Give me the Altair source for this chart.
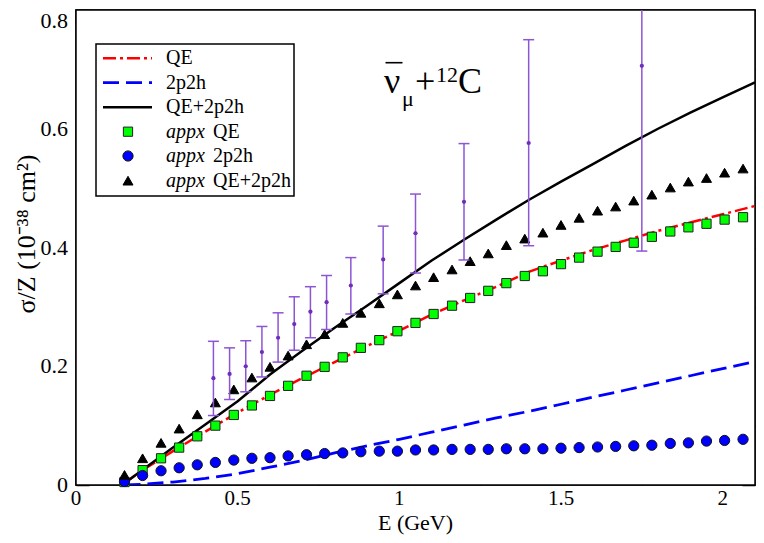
import altair as alt
import pandas as pd

SERIF = "Liberation Serif"
PURPLE_BAR = "#8c55d4"
PURPLE_DOT = "#6f2dbd"

# ---------------- data ----------------
E_appx = [0.15, 0.206, 0.263, 0.319, 0.375, 0.431, 0.488, 0.544, 0.6, 0.656,
          0.713, 0.769, 0.825, 0.881, 0.938, 0.994, 1.05, 1.106, 1.163, 1.219,
          1.275, 1.331, 1.388, 1.444, 1.5, 1.556, 1.613, 1.669, 1.725, 1.781,
          1.838, 1.894, 1.95, 2.006, 2.063]
appx_qe = [0.005, 0.025, 0.045, 0.063, 0.082, 0.100, 0.118, 0.134, 0.150, 0.167,
           0.184, 0.199, 0.215, 0.231, 0.244, 0.259, 0.273, 0.288, 0.302, 0.315,
           0.327, 0.340, 0.352, 0.360, 0.372, 0.383, 0.393, 0.401, 0.408, 0.418,
           0.427, 0.434, 0.440, 0.447, 0.451]
appx_2p2h = [0.006, 0.016, 0.024, 0.029, 0.034, 0.038, 0.042, 0.045, 0.046, 0.049,
             0.051, 0.053, 0.054, 0.056, 0.057, 0.057, 0.059, 0.059, 0.060, 0.060,
             0.060, 0.061, 0.061, 0.061, 0.062, 0.063, 0.064, 0.065, 0.066, 0.067,
             0.070, 0.071, 0.074, 0.075, 0.077]
appx_tot = [0.017, 0.045, 0.071, 0.095, 0.119, 0.139, 0.161, 0.181, 0.199, 0.218,
            0.237, 0.254, 0.273, 0.290, 0.306, 0.321, 0.336, 0.350, 0.363, 0.377,
            0.390, 0.404, 0.415, 0.425, 0.438, 0.450, 0.462, 0.469, 0.479, 0.489,
            0.501, 0.511, 0.517, 0.526, 0.533]

E_line = [0.15, 0.2, 0.3, 0.4, 0.5, 0.6, 0.7, 0.8, 0.9, 1.0, 1.1, 1.2, 1.3, 1.4,
          1.5, 1.6, 1.7, 1.8, 1.9, 2.0, 2.1]
qe_line = [0.003, 0.023, 0.057, 0.090, 0.122, 0.152, 0.180, 0.207, 0.234, 0.260,
           0.287, 0.311, 0.334, 0.359, 0.378, 0.396, 0.412, 0.428, 0.442, 0.456, 0.470]
np_line = [0.0, 0.001, 0.005, 0.011, 0.019, 0.030, 0.041, 0.054, 0.066, 0.077,
           0.089, 0.101, 0.113, 0.124, 0.136, 0.148, 0.160, 0.172, 0.184, 0.196, 0.208]
tot_line = [0.003, 0.023, 0.063, 0.102, 0.141, 0.186, 0.226, 0.265, 0.302, 0.340,
            0.378, 0.413, 0.447, 0.480, 0.511, 0.541, 0.571, 0.600, 0.627, 0.653, 0.678]

E_data = [0.425, 0.475, 0.525, 0.575, 0.625, 0.675, 0.725, 0.775, 0.85, 0.95,
          1.05, 1.2, 1.4, 1.75]
data_c = [0.180, 0.187, 0.200, 0.224, 0.248, 0.271, 0.292, 0.308, 0.336, 0.380,
          0.424, 0.477, 0.576, 0.706]
data_lo = [0.117, 0.144, 0.157, 0.182, 0.207, 0.227, 0.248, 0.262, 0.288, 0.322,
           0.357, 0.379, 0.403, 0.394]
data_hi = [0.242, 0.231, 0.243, 0.267, 0.290, 0.317, 0.334, 0.353, 0.383, 0.436,
           0.490, 0.575, 0.750, 1.020]

X_MIN, X_MAX = 0.0, 2.1
Y_MIN, Y_MAX = 0.0, 0.8
x_major = [0, 0.5, 1, 1.5, 2]
x_major_labels = ["0", "0.5", "1", "1.5", "2"]
x_minor = [0.25, 0.75, 1.25, 1.75]
y_major = [0, 0.2, 0.4, 0.6, 0.8]
y_major_labels = ["0", "0.2", "0.4", "0.6", "0.8"]
y_minor = [0.1, 0.3, 0.5, 0.7]

W, H = 679, 475
MAJ, MIN_ = 13, 7

lines_df = pd.DataFrame({"E": E_line, "qe": qe_line, "np": np_line, "tot": tot_line})
appx_df = pd.DataFrame({"E": E_appx, "qe": appx_qe, "np": appx_2p2h, "tot": appx_tot})
data_df = pd.DataFrame({"E": E_data, "c": data_c, "lo": data_lo, "hi": data_hi})
frame_df = pd.DataFrame({"x0": [X_MIN], "x1": [X_MAX], "y0": [Y_MIN], "y1": [Y_MAX]})
one = pd.DataFrame({"a": [0]})

xs = alt.Scale(domain=[X_MIN, X_MAX], nice=False, zero=False)
ys = alt.Scale(domain=[Y_MIN, Y_MAX], nice=False, zero=False)


def tick_axis(orient, values, length):
    return alt.Axis(orient=orient, values=values, offset=-length, tickSize=length,
                    tickWidth=1.5, tickColor="black", ticks=True, labels=False,
                    domain=False, grid=False, title=None)


def X(field, axis=None):
    return alt.X(field, type="quantitative", scale=xs, axis=axis)


def Y(field, axis=None):
    return alt.Y(field, type="quantitative", scale=ys, axis=axis)


def box(x0, x1, y0, y1, color="black"):
    return (alt.Chart(one).mark_rect(fill=color, opacity=1)
            .encode(x=alt.value(x0), x2=alt.value(x1), y=alt.value(y0), y2=alt.value(y1)))


layers = []

# plot frame from the scale extent
layers.append(alt.Chart(frame_df).mark_rect(fill="white", stroke="black", strokeWidth=1.5)
              .encode(x=X("x0"), x2="x1", y=Y("y0"), y2="y1"))

# curves (each carries one set of inward tick axes)
layers.append(alt.Chart(lines_df).mark_line(color="#0000ff", strokeWidth=2.8,
                                            strokeDash=[16, 7], clip=True)
              .encode(x=X("E", tick_axis("bottom", x_major, MAJ)),
                      y=Y("np", tick_axis("left", y_major, MAJ))))
layers.append(alt.Chart(lines_df).mark_line(color="#ff0000", strokeWidth=2.5,
                                            strokeDash=[13, 4, 3, 4], clip=True)
              .encode(x=X("E", tick_axis("top", x_major, MAJ)),
                      y=Y("qe", tick_axis("right", y_major, MAJ))))
layers.append(alt.Chart(lines_df).mark_line(color="black", strokeWidth=2.5, clip=True)
              .encode(x=X("E", tick_axis("bottom", x_minor, MIN_)),
                      y=Y("tot", tick_axis("left", y_minor, MIN_))))

layers.append(alt.Chart(appx_df).mark_point(shape="square", filled=True, fill="#00ff00",
                                            stroke="#222222", strokeWidth=1, size=85,
                                            opacity=1)
              .encode(x=X("E", tick_axis("top", x_minor, MIN_)),
                      y=Y("qe", tick_axis("right", y_minor, MIN_))))
layers.append(alt.Chart(appx_df).mark_point(shape="circle", filled=True, fill="#0000ff",
                                            stroke="#111111", strokeWidth=1, size=105,
                                            opacity=1)
              .encode(x=X("E"), y=Y("np")))
layers.append(alt.Chart(appx_df).mark_point(shape="triangle-up", filled=True,
                                            fill="black", stroke="black", strokeWidth=1,
                                            size=100, opacity=1)
              .encode(x=X("E"), y=Y("tot")))

layers.append(alt.Chart(data_df).mark_rule(color=PURPLE_BAR, strokeWidth=1.5, clip=True)
              .encode(x=X("E"), y=Y("lo"), y2="hi"))
layers.append(alt.Chart(data_df).mark_tick(color=PURPLE_BAR, thickness=1.5, size=11,
                                           orient="horizontal", clip=True, opacity=1)
              .encode(x=X("E"), y=Y("hi")))
layers.append(alt.Chart(data_df).mark_tick(color=PURPLE_BAR, thickness=1.5, size=11,
                                           orient="horizontal", clip=True, opacity=1)
              .encode(x=X("E"), y=Y("lo")))
layers.append(alt.Chart(data_df).mark_circle(color=PURPLE_DOT, size=18, opacity=1)
              .encode(x=X("E"), y=Y("c")))

# tick labels
xl = pd.DataFrame({"v": x_major, "lab": x_major_labels})
layers.append(alt.Chart(xl).mark_text(font=SERIF, fontSize=21, align="center",
                                      baseline="alphabetic", color="black")
              .encode(x=X("v"), y=alt.value(H + 20), text="lab:N"))
yl = pd.DataFrame({"v": y_major[:-1], "lab": y_major_labels[:-1]})
layers.append(alt.Chart(yl).mark_text(font=SERIF, fontSize=22, align="right",
                                      baseline="middle", color="black")
              .encode(x=alt.value(-8), y=Y("v"), text="lab:N"))
yl_top = pd.DataFrame({"v": y_major[-1:], "lab": y_major_labels[-1:]})
layers.append(alt.Chart(yl_top).mark_text(font=SERIF, fontSize=22, align="right",
                                          baseline="alphabetic", color="black")
              .encode(x=alt.value(-8), y=alt.value(18), text="lab:N"))

# axis titles
layers.append(alt.Chart(one).mark_text(font=SERIF, fontSize=22, align="center",
                                       baseline="alphabetic", color="black")
              .encode(x=alt.value(W / 2), y=alt.value(H + 45), text=alt.value("E (GeV)")))
layers.append(alt.Chart(one).mark_text(font=SERIF, fontSize=26, align="center",
                                       baseline="alphabetic", color="black", angle=270)
              .encode(x=alt.value(-41), y=alt.value(224),
                      text=alt.value("σ/Z (10⁻³⁸ cm²)")))

# legend
layers.append(alt.Chart(one).mark_rect(fill="white", stroke="black", strokeWidth=1.5)
              .encode(x=alt.value(20), x2=alt.value(218), y=alt.value(34),
                      y2=alt.value(186)))
rows = [48.3, 72.7, 97.3, 121.7, 146.0, 170.7]
layers.append(alt.Chart(one).mark_rule(color="#ff0000", strokeWidth=2.5,
                                       strokeDash=[13, 4, 3, 4])
              .encode(x=alt.value(27), x2=alt.value(76), y=alt.value(rows[0])))
layers.append(alt.Chart(one).mark_rule(color="#0000ff", strokeWidth=2.8,
                                       strokeDash=[16, 7])
              .encode(x=alt.value(27), x2=alt.value(76), y=alt.value(rows[1])))
layers.append(alt.Chart(one).mark_rule(color="black", strokeWidth=2.5)
              .encode(x=alt.value(27), x2=alt.value(76), y=alt.value(rows[2])))
layers.append(alt.Chart(one).mark_point(shape="square", filled=True, fill="#00ff00",
                                        stroke="#222222", strokeWidth=1, size=85,
                                        opacity=1)
              .encode(x=alt.value(52), y=alt.value(rows[3])))
layers.append(alt.Chart(one).mark_point(shape="circle", filled=True, fill="#0000ff",
                                        stroke="#111111", strokeWidth=1, size=105,
                                        opacity=1)
              .encode(x=alt.value(52), y=alt.value(rows[4])))
layers.append(alt.Chart(one).mark_point(shape="triangle-up", filled=True, fill="black",
                                        stroke="black", strokeWidth=1, size=100,
                                        opacity=1)
              .encode(x=alt.value(52), y=alt.value(rows[5])))

legend_labels = ["QE", "2p2h", "QE+2p2h"]
for i, lab in enumerate(legend_labels):
    layers.append(alt.Chart(one).mark_text(font=SERIF, fontSize=20, align="left",
                                           baseline="middle", color="black")
                  .encode(x=alt.value(90), y=alt.value(rows[i]), text=alt.value(lab)))
for i, lab in enumerate(legend_labels):
    layers.append(alt.Chart(one).mark_text(font=SERIF, fontSize=20, align="left",
                                           baseline="middle", color="black",
                                           fontStyle="italic")
                  .encode(x=alt.value(90), y=alt.value(rows[3 + i]),
                          text=alt.value("appx")))
    layers.append(alt.Chart(one).mark_text(font=SERIF, fontSize=20, align="left",
                                           baseline="middle", color="black")
                  .encode(x=alt.value(137), y=alt.value(rows[3 + i]),
                          text=alt.value(lab)))


def txt(s, x, y, size):
    return (alt.Chart(one).mark_text(font=SERIF, fontSize=size, align="left",
                                     baseline="alphabetic", color="black")
            .encode(x=alt.value(x), y=alt.value(y), text=alt.value(s)))


layers += [txt("ν", 308, 83, 36), txt("μ", 326, 96, 22), txt("+", 339, 83, 36),
           txt("12", 360, 71.7, 22), txt("C", 382, 83, 36)]
layers.append(box(309.5, 326.5, 51.9, 53.5))

chart = (alt.layer(*layers)
         .resolve_axis(x="independent", y="independent")
         .properties(width=W, height=H, autosize="none",
                     padding={"left": 68, "top": 2, "right": 1, "bottom": 50},
                     background="white")
         .configure_view(stroke="black", strokeWidth=1.5))

chart.save("out.html", embed_options={"renderer": "svg", "actions": False})
